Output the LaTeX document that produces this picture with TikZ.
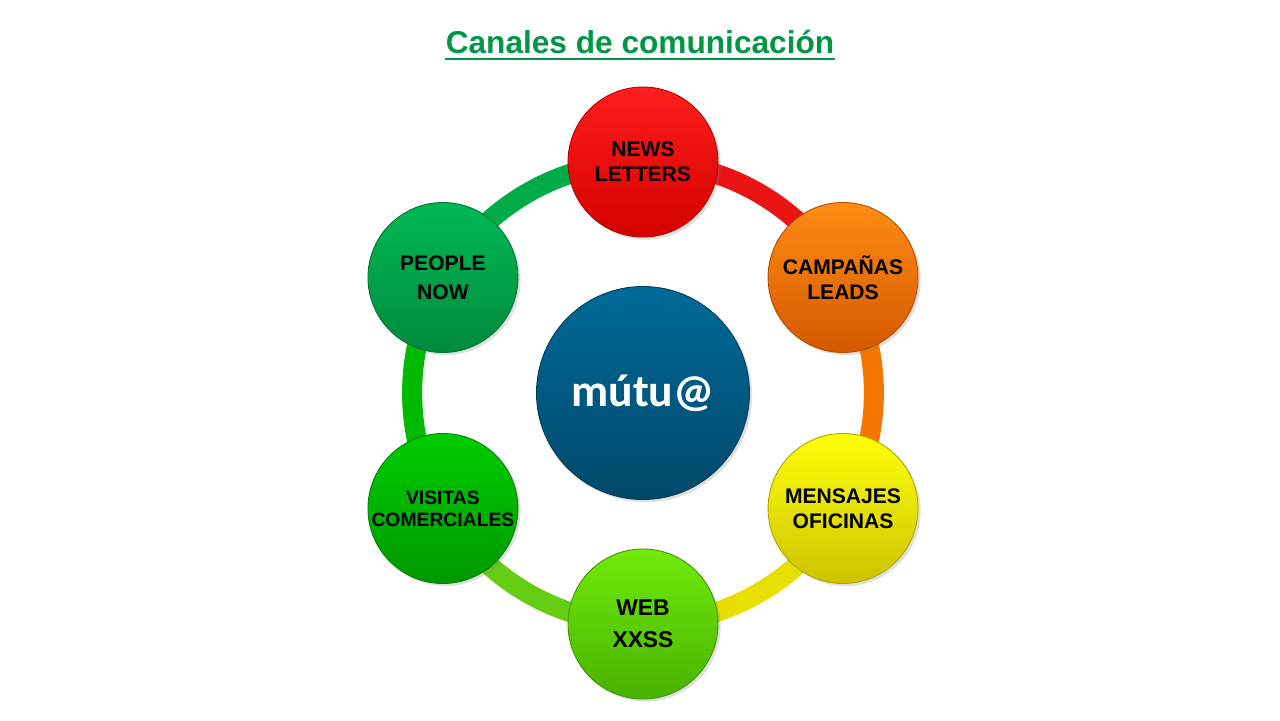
\documentclass[tikz,border=0pt]{standalone}
\usepackage{fontspec}
\setmainfont{Liberation Sans}
\newfontfamily\hubfont{Carlito}
\usepackage{xcolor}
\usetikzlibrary{positioning, shadows, backgrounds}

\definecolor{titlegreen}{RGB}{0,150,70}
\definecolor{redtop}{RGB}{255,30,30}
\definecolor{redbot}{RGB}{212,0,0}
\definecolor{orangetop}{RGB}{255,140,20}
\definecolor{orangebot}{RGB}{212,88,0}
\definecolor{yellowtop}{RGB}{255,255,10}
\definecolor{yellowbot}{RGB}{205,195,0}
\definecolor{limetop}{RGB}{112,235,10}
\definecolor{limebot}{RGB}{72,178,0}
\definecolor{greentop}{RGB}{0,205,0}
\definecolor{greenbot}{RGB}{0,152,0}
\definecolor{peopletop}{RGB}{0,185,85}
\definecolor{peoplebot}{RGB}{0,138,60}
\definecolor{bluetop}{RGB}{0,106,152}
\definecolor{bluebot}{RGB}{0,72,106}
\definecolor{ringred}{RGB}{235,20,20}
\definecolor{ringorange}{RGB}{245,118,0}
\definecolor{ringyellow}{RGB}{232,222,0}
\definecolor{ringlime}{RGB}{100,205,20}
\definecolor{ringgreen}{RGB}{0,185,0}
\definecolor{ringpeople}{RGB}{0,172,72}

\begin{document}
\begin{tikzpicture}[
  channel/.style 2 args={circle, minimum size=3cm, inner sep=0pt, align=center,
    top color=#1, bottom color=#2, draw=#2!85!black, line width=0.5pt,
    font=\bfseries\fontsize{12}{14}\selectfont,
    drop shadow={shadow xshift=1.5pt, shadow yshift=-1.5pt, opacity=0.25}},
  hub/.style={circle, minimum size=4.26cm, inner sep=0pt,
    top color=bluetop, bottom color=bluebot, draw=bluebot!85!black, line width=0.5pt,
    text=white, font=\hubfont\bfseries\fontsize{26}{30}\selectfont,
    drop shadow={shadow xshift=1.5pt, shadow yshift=-1.5pt, opacity=0.25}},
  ring/.style={line width=0.4cm, looseness=0.913}
]
\useasboundingbox (-12.86,-6.54) rectangle (12.74,7.86);

% title
\node[inner sep=0pt, text=titlegreen, font=\bfseries\fontsize{18}{22}\selectfont]
  (title) at (-0.06,7.02) {Canales de comunicación};
\draw[titlegreen, line width=1.2pt] ([yshift=-3pt]title.base west) -- ([yshift=-3pt]title.base east);

% centre and channels
\node[hub] (mutua) at (0,0) {mútu@};
\node[channel={redtop}{redbot}] (news) at (90:4.62) {NEWS\\LETTERS};
\node[channel={orangetop}{orangebot}] (leads) at (30:4.62) {CAMPAÑAS\\LEADS};
\node[channel={yellowtop}{yellowbot}] (offices) at (-30:4.62) {MENSAJES\\OFICINAS};
\node[channel={limetop}{limebot}, font=\bfseries\fontsize{13}{18}\selectfont] (web) at (-90:4.62) {WEB\\XXSS};
\node[channel={greentop}{greenbot}, font=\bfseries\fontsize{11}{12.5}\selectfont] (visits) at (-150:4.62) {VISITAS\\COMERCIALES};
\node[channel={peopletop}{peoplebot}, font=\bfseries\fontsize{12}{16.5}\selectfont] (people) at (150:4.62) {PEOPLE\\NOW};

% ring
\begin{scope}[on background layer]
\draw[ring, ringred] (news.center) to[bend left=30] (leads.center);
\draw[ring, ringorange] (leads.center) to[bend left=30] (offices.center);
\draw[ring, ringyellow] (offices.center) to[bend left=30] (web.center);
\draw[ring, ringlime] (web.center) to[bend left=30] (visits.center);
\draw[ring, ringgreen] (visits.center) to[bend left=30] (people.center);
\draw[ring, ringpeople] (people.center) to[bend left=30] (news.center);
\end{scope}
\end{tikzpicture}
\end{document}
